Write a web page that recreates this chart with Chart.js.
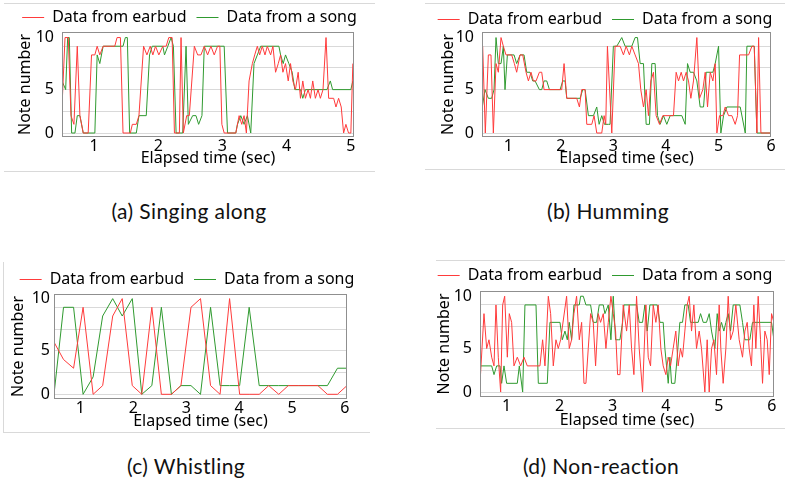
<!DOCTYPE html>
<html>
<head>
<meta charset="utf-8">
<script src="https://cdn.jsdelivr.net/npm/chart.js@4.4.1/dist/chart.umd.min.js"></script>
<style>
  body { margin: 0; background: #fff; width: 789px; height: 488px; position: relative; overflow: hidden; }
  canvas { position: absolute; }
  .rule { position: absolute; background: #d9d9d9; }
  .cap { position: absolute; font-family: Lato, sans-serif; font-size: 21px; letter-spacing: 0.4px; line-height: 24px; color: #111; transform: translateX(-50%); white-space: nowrap; }
</style>
</head>
<body>
<div class="rule" style="left:4px;top:3px;width:371px;height:1px"></div>
<div class="rule" style="left:4px;top:171px;width:371px;height:1px"></div>
<div class="rule" style="left:425px;top:3px;width:360px;height:1px"></div>
<div class="rule" style="left:425px;top:169px;width:360px;height:1px"></div>
<div class="rule" style="left:3px;top:262px;width:1px;height:170px"></div>
<div class="rule" style="left:3px;top:432px;width:367px;height:1px"></div>
<div class="rule" style="left:436px;top:260px;width:349px;height:1px"></div>
<div class="rule" style="left:436px;top:428px;width:349px;height:1px"></div>

<canvas id="chartA" width="371" height="168" style="left:4px;top:4px"></canvas>
<canvas id="chartB" width="360" height="166" style="left:425px;top:4px"></canvas>
<canvas id="chartC" width="366" height="170" style="left:4px;top:262px"></canvas>
<canvas id="chartD" width="360" height="170" style="left:425px;top:261px"></canvas>

<div class="cap" style="left:189px;top:199px">(a) Singing along</div>
<div class="cap" style="left:608px;top:199px">(b) Humming</div>
<div class="cap" style="left:186px;top:454px">(c) Whistling</div>
<div class="cap" style="left:601px;top:454px">(d) Non-reaction</div>

<script>
// series names
const seriesNames = ['Data from earbud', 'Data from a song'];

// axis ticks (tick "10" sits above the top gridline in the original)
const yTickValues = [0, 2.5, 5, 7.5, 10, 11];
const yTickLabels = ['0', '', '5', '', '', '10'];
const xTicksA = [1, 2, 3, 4, 5];
const xTicksB = [1, 2, 3, 4, 5, 6];

// (a) Singing along
const aEarbudT = [0.5, 0.547, 0.598, 0.64, 0.686, 0.738, 0.779, 0.831, 0.908, 0.96, 1.012, 1.048, 1.089, 1.141, 1.322, 1.358, 1.41, 1.451, 1.565, 1.596, 1.658, 1.699, 1.771, 1.823, 1.875, 1.916, 1.957, 2.009, 2.071, 2.123, 2.164, 2.216, 2.252, 2.329, 2.355, 2.391, 2.443, 2.484, 2.562, 2.614, 2.665, 2.717, 2.769, 2.82, 2.872, 2.924, 2.96, 2.991, 3.027, 3.208, 3.26, 3.301, 3.337, 3.373, 3.415, 3.466, 3.503, 3.544, 3.58, 3.621, 3.663, 3.699, 3.751, 3.787, 3.828, 3.87, 3.906, 3.942, 3.983, 4.025, 4.061, 4.097, 4.138, 4.18, 4.216, 4.252, 4.293, 4.335, 4.371, 4.407, 4.448, 4.49, 4.526, 4.567, 4.614, 4.655, 4.733, 4.769, 4.81, 4.851, 4.888, 4.924, 4.965, 5.001, 5.032];
const aEarbudV = [3, 11, 11, 2, 1, 10, 2, 0, 0, 9, 9, 10, 9, 10, 10, 11, 11, 0, 0, 1, 1, 2, 10, 9, 10, 9, 10, 9, 10, 10, 11, 11, 0, 0, 11, 0, 2, 2, 10, 9, 9, 10, 9, 10, 9, 10, 10, 1, 0, 0, 2, 1, 2, 0, 6, 8, 9, 10, 9, 10, 9, 10, 9, 10, 7, 8, 9, 7, 8, 6, 8, 6, 5, 7, 4, 6, 4, 5, 4, 6, 4, 5, 4, 5, 11, 4, 4, 3, 4, 3, 0, 1, 0, 0, 8];
const aSongT = [0.5, 0.557, 0.588, 0.614, 0.65, 0.702, 0.738, 0.779, 0.831, 1.012, 1.048, 1.089, 1.141, 1.451, 1.487, 1.518, 1.554, 1.658, 1.699, 1.813, 1.864, 1.906, 2.071, 2.097, 2.149, 2.2, 2.236, 2.278, 2.381, 2.433, 2.469, 2.536, 2.588, 2.629, 2.681, 2.717, 3.027, 3.079, 3.208, 3.234, 3.286, 3.337, 3.389, 3.441, 3.492, 3.544, 3.596, 3.88, 3.906, 3.947, 3.983, 4.035, 4.087, 4.128, 4.216, 4.252, 4.293, 4.629, 4.681, 4.717, 5.001, 5.032];
const aSongV = [6, 5, 11, 11, 0, 0, 2, 2, 0, 0, 9, 8, 10, 10, 11, 11, 0, 0, 2, 2, 9, 10, 10, 9, 10, 11, 10, 0, 0, 10, 1, 2, 2, 1, 2, 10, 10, 0, 0, 1, 2, 1, 2, 0, 8, 9, 10, 10, 9, 8, 9, 8, 7, 5, 5, 4, 5, 5, 6, 5, 5, 6];

// (b) Humming
const bEarbudT = [0.513, 0.563, 0.621, 0.671, 0.716, 0.767, 0.811, 0.862, 0.906, 0.957, 1.065, 1.116, 1.16, 1.224, 1.275, 1.338, 1.383, 1.433, 1.478, 1.529, 1.592, 1.637, 1.681, 2.017, 2.062, 2.113, 2.303, 2.354, 2.398, 2.462, 2.494, 2.589, 2.633, 2.684, 2.779, 2.824, 2.855, 2.887, 2.97, 3.033, 3.129, 3.192, 3.243, 3.306, 3.351, 3.414, 3.478, 3.522, 3.573, 3.624, 3.668, 3.713, 3.763, 3.814, 3.878, 3.941, 4.144, 4.195, 4.24, 4.291, 4.335, 4.386, 4.43, 4.475, 4.525, 4.589, 4.64, 4.703, 4.748, 4.792, 4.843, 4.894, 4.938, 4.97, 5.021, 5.084, 5.129, 5.192, 5.256, 5.319, 5.363, 5.402, 5.573, 5.637, 5.681, 5.732, 5.764, 5.808, 5.986];
const bEarbudV = [10, 0, 9, 9, 0, 8, 7, 11, 10, 9, 9, 8, 7, 9, 9, 7, 6, 7, 6, 6, 7, 7, 5, 5, 8, 4, 4, 3, 5, 5, 1, 1, 2, 0, 0, 2, 1, 10, 0, 10, 10, 9, 10, 9, 10, 9, 8, 5, 3, 5, 2, 6, 7, 2, 1, 2, 2, 7, 6, 7, 6, 7, 6, 4, 6, 11, 4, 5, 7, 3, 7, 6, 8, 0, 2, 2, 3, 2, 2, 1, 2, 9, 9, 10, 10, 0, 11, 0, 0];
const bSongT = [0.506, 0.557, 0.621, 0.684, 0.729, 0.767, 0.811, 0.862, 0.906, 0.938, 0.983, 1.11, 1.16, 1.224, 1.3, 1.351, 1.414, 1.465, 1.51, 1.592, 1.637, 1.681, 1.732, 1.783, 1.986, 2.037, 2.081, 2.113, 2.367, 2.417, 2.462, 2.525, 2.621, 2.684, 2.729, 2.779, 2.83, 2.906, 2.937, 3.0, 3.065, 3.16, 3.224, 3.351, 3.414, 3.459, 3.51, 3.573, 3.624, 3.687, 3.732, 3.795, 3.84, 3.89, 3.954, 4.017, 4.081, 4.303, 4.367, 4.411, 4.462, 4.525, 4.589, 4.652, 4.716, 4.767, 4.894, 4.938, 5.002, 5.046, 5.097, 5.16, 5.414, 5.51, 5.541, 5.681, 5.732, 5.986];
const bSongV = [3, 5, 4, 4, 5, 11, 8, 8, 10, 5, 9, 9, 8, 9, 9, 7, 7, 6, 6, 5, 5, 6, 6, 5, 5, 6, 6, 4, 4, 5, 5, 2, 2, 3, 1, 2, 1, 1, 1, 10, 10, 11, 10, 10, 11, 11, 8, 8, 1, 1, 8, 8, 2, 1, 2, 1, 2, 2, 1, 8, 7, 7, 6, 3, 3, 7, 7, 8, 10, 0, 2, 3, 3, 0, 10, 10, 0, 0];

// (c) Whistling
const cTime = [0.5, 0.68, 0.87, 1.05, 1.24, 1.42, 1.61, 1.79, 1.98, 2.16, 2.35, 2.53, 2.72, 2.9, 3.09, 3.27, 3.46, 3.64, 3.82, 4.01, 4.19, 4.38, 4.56, 4.75, 4.93, 5.12, 5.3, 5.49, 5.67, 5.86, 6.04];
const cEarbudV = [6, 4, 3, 10, 0, 1, 9, 11, 1, 0, 10, 0, 0, 1, 10, 11, 1, 0, 11, 0, 0, 0, 1, 0, 1, 1, 1, 1, 0, 0, 1];
const cSongV = [0, 10, 10, 0, 2, 9, 11, 9, 11, 0, 1, 10, 0, 1, 1, 0, 10, 1, 1, 1, 10, 1, 1, 1, 1, 1, 1, 1, 1, 3, 3];

// (d) Non-reaction
const dEarbudT = [0.5, 0.575, 0.626, 0.669, 0.72, 0.764, 0.801, 0.845, 0.889, 0.927, 0.965, 1.015, 1.052, 1.096, 1.14, 1.203, 1.266, 1.329, 1.391, 1.63, 1.68, 1.724, 1.787, 1.831, 1.881, 1.931, 1.975, 2.019, 2.132, 2.182, 2.226, 2.27, 2.32, 2.371, 2.415, 2.459, 2.496, 2.54, 2.584, 2.634, 2.678, 2.729, 2.772, 2.823, 2.873, 2.917, 2.967, 3.011, 3.055, 3.093, 3.137, 3.199, 3.262, 3.312, 3.356, 3.4, 3.45, 3.5, 3.563, 3.626, 3.67, 3.714, 3.764, 3.814, 3.858, 3.908, 3.952, 4.002, 4.046, 4.09, 4.14, 4.19, 4.234, 4.278, 4.316, 4.36, 4.404, 4.442, 4.486, 4.53, 4.58, 4.63, 4.674, 4.737, 4.781, 4.819, 4.863, 4.907, 4.957, 5.007, 5.038, 5.082, 5.133, 5.177, 5.221, 5.271, 5.321, 5.384, 5.447, 5.491, 5.535, 5.572, 5.616, 5.66, 5.698, 5.742, 5.786, 5.824, 5.868, 5.912, 5.95, 5.994, 6.038];
const dEarbudV = [1, 9, 5, 6, 4, 3, 10, 4, 0, 10, 11, 4, 9, 8, 3, 4, 3, 4, 3, 3, 6, 3, 11, 9, 3, 6, 5, 6, 11, 5, 6, 9, 11, 6, 8, 1, 1, 5, 9, 8, 3, 9, 8, 9, 5, 8, 11, 9, 7, 2, 2, 10, 7, 10, 5, 2, 11, 5, 0, 10, 4, 3, 10, 8, 10, 5, 3, 2, 4, 3, 5, 7, 3, 5, 4, 7, 10, 11, 7, 10, 5, 7, 5, 0, 6, 0, 5, 6, 2, 10, 5, 1, 5, 11, 6, 7, 10, 6, 4, 7, 8, 5, 3, 10, 5, 11, 6, 1, 7, 6, 2, 9, 8];
const dSongT = [0.5, 0.72, 0.764, 0.814, 0.877, 0.908, 0.952, 1.002, 1.203, 1.241, 1.304, 1.347, 1.555, 1.599, 1.768, 1.818, 2.007, 2.051, 2.101, 2.145, 2.182, 2.226, 2.27, 2.371, 2.396, 2.446, 2.496, 2.584, 2.634, 2.697, 2.747, 2.823, 2.854, 2.917, 2.967, 3.011, 3.055, 3.105, 3.137, 3.187, 3.212, 3.451, 3.5, 3.563, 3.607, 3.651, 3.701, 3.839, 3.89, 3.952, 3.984, 4.015, 4.047, 4.078, 4.109, 4.172, 4.216, 4.266, 4.316, 4.36, 4.423, 4.467, 4.612, 4.656, 4.706, 4.768, 4.819, 4.863, 4.926, 4.97, 5.007, 5.051, 5.095, 5.133, 5.177, 5.221, 5.271, 5.397, 5.447, 5.491, 5.585, 5.635, 5.994, 6.038];
const dSongV = [3, 3, 2, 3, 3, 1, 3, 1, 1, 3, 0, 10, 10, 1, 1, 8, 8, 6, 7, 6, 8, 6, 10, 10, 11, 11, 10, 10, 8, 8, 10, 10, 9, 10, 6, 11, 6, 6, 6, 8, 10, 10, 8, 8, 10, 7, 10, 10, 8, 8, 5, 3, 1, 4, 1, 1, 4, 8, 8, 10, 10, 8, 8, 9, 8, 8, 9, 7, 5, 9, 7, 8, 7, 8, 9, 7, 10, 10, 8, 6, 6, 8, 8, 6];

const RED = '#ff3b3b';
const GREEN = '#2f9a2f';
const FONT_SIZE = 16;
const LEGEND_PAD = 10;

Chart.defaults.font.family = '"Noto Sans", sans-serif';
Chart.defaults.font.size = FONT_SIZE;
Chart.defaults.color = '#000';

function pts(t, v) {
  return t.map((x, i) => ({ x: x, y: v[i] }));
}

// grey box round the plot area
const plotFrame = {
  id: 'plotFrame',
  afterDatasetsDraw(chart) {
    const { ctx, chartArea: a } = chart;
    ctx.save();
    ctx.strokeStyle = '#8f8f8f';
    ctx.lineWidth = 1;
    ctx.strokeRect(Math.round(a.left) + 0.5, Math.round(a.top) + 0.5,
      Math.round(a.right - a.left) - 1, Math.round(a.bottom - a.top) - 1);
    ctx.restore();
  }
};

function series(label, t, v, color) {
  return {
    label: label, data: pts(t, v),
    borderColor: color, backgroundColor: color,
    borderWidth: 1, pointRadius: 0, tension: 0
  };
}

function makeChart(id, p) {
  const padTop = p.legendY - LEGEND_PAD - FONT_SIZE / 2;
  return new Chart(document.getElementById(id), {
    type: 'line',
    data: {
      datasets: [
        series(seriesNames[0], p.earbudT, p.earbudV, RED),
        series(seriesNames[1], p.songT, p.songV, GREEN)
      ]
    },
    options: {
      responsive: false,
      animation: false,
      layout: { padding: { top: padTop, left: 0, right: 0, bottom: 0 } },
      plugins: {
        legend: {
          maxHeight: p.top - padTop,
          labels: {
            boxWidth: 22, boxHeight: 1,
            padding: LEGEND_PAD, color: '#000',
            generateLabels: chart => chart.data.datasets.map((ds, i) => ({
              text: ds.label, datasetIndex: i, hidden: false,
              fillStyle: ds.borderColor, strokeStyle: ds.borderColor,
              lineWidth: 0, fontColor: '#000'
            }))
          }
        },
        tooltip: { enabled: false }
      },
      scales: {
        x: {
          type: 'linear',
          min: 0.5,
          max: p.xMax,
          grid: { display: false, drawTicks: false },
          border: { display: false },
          ticks: { padding: 0, autoSkip: false, maxRotation: 0, callback: v => String(v) },
          afterBuildTicks: s => { s.ticks = p.xTicks.map(v => ({ value: v })); },
          afterFit: s => { s.height = p.xH; },
          title: { display: true, text: 'Elapsed time (sec)', padding: { top: 0, bottom: p.xTitlePad } }
        },
        y: {
          min: p.yMin,
          max: p.yMax,
          grid: { color: c => (c.tick && c.tick.value === 11 ? 'rgba(0,0,0,0)' : '#d9d9d9'), drawTicks: false },
          border: { display: false },
          ticks: { padding: p.yTickPad, autoSkip: false, callback: (v, i) => yTickLabels[i] },
          afterBuildTicks: s => { s.ticks = yTickValues.map(v => ({ value: v })); },
          afterFit: s => { s.width = p.left; },
          title: { display: true, text: 'Note number', padding: { top: p.yTitlePad, bottom: 0 } }
        },
        yRight: {
          axis: 'y',
          position: 'right',
          grid: { display: false },
          border: { display: false },
          ticks: { display: false },
          afterFit: s => { s.width = p.rightGap; }
        }
      }
    },
    plugins: [plotFrame]
  });
}

makeChart('chartA', {
  earbudT: aEarbudT, earbudV: aEarbudV, songT: aSongT, songV: aSongV,
  xTicks: xTicksA, xMax: 5.05, yMin: -0.46, yMax: 11.64,
  legendY: 13.5, top: 28, left: 58, rightGap: 21, xH: 35,
  xTitlePad: 4.4, yTitlePad: 11.4, yTickPad: 8
});
makeChart('chartB', {
  earbudT: bEarbudT, earbudV: bEarbudV, songT: bSongT, songV: bSongV,
  xTicks: xTicksB, xMax: 6.0, yMin: -0.46, yMax: 11.64,
  legendY: 15.5, top: 28, left: 57, rightGap: 14, xH: 33,
  xTitlePad: 2.4, yTitlePad: 13.9, yTickPad: 8
});
makeChart('chartC', {
  earbudT: cTime, earbudV: cEarbudV, songT: cTime, songV: cSongV,
  xTicks: xTicksB, xMax: 6.04, yMin: -0.54, yMax: 11.53,
  legendY: 17.5, top: 32, left: 50, rightGap: 23, xH: 33,
  xTitlePad: 0.9, yTitlePad: 4.9, yTickPad: 4
});
makeChart('chartD', {
  earbudT: dEarbudT, earbudV: dEarbudV, songT: dSongT, songV: dSongV,
  xTicks: xTicksB, xMax: 6.04, yMin: -0.57, yMax: 11.6,
  legendY: 14.5, top: 30, left: 55, rightGap: 11, xH: 34,
  xTitlePad: 1.4, yTitlePad: 9.9, yTickPad: 8
});
</script>
</body>
</html>
